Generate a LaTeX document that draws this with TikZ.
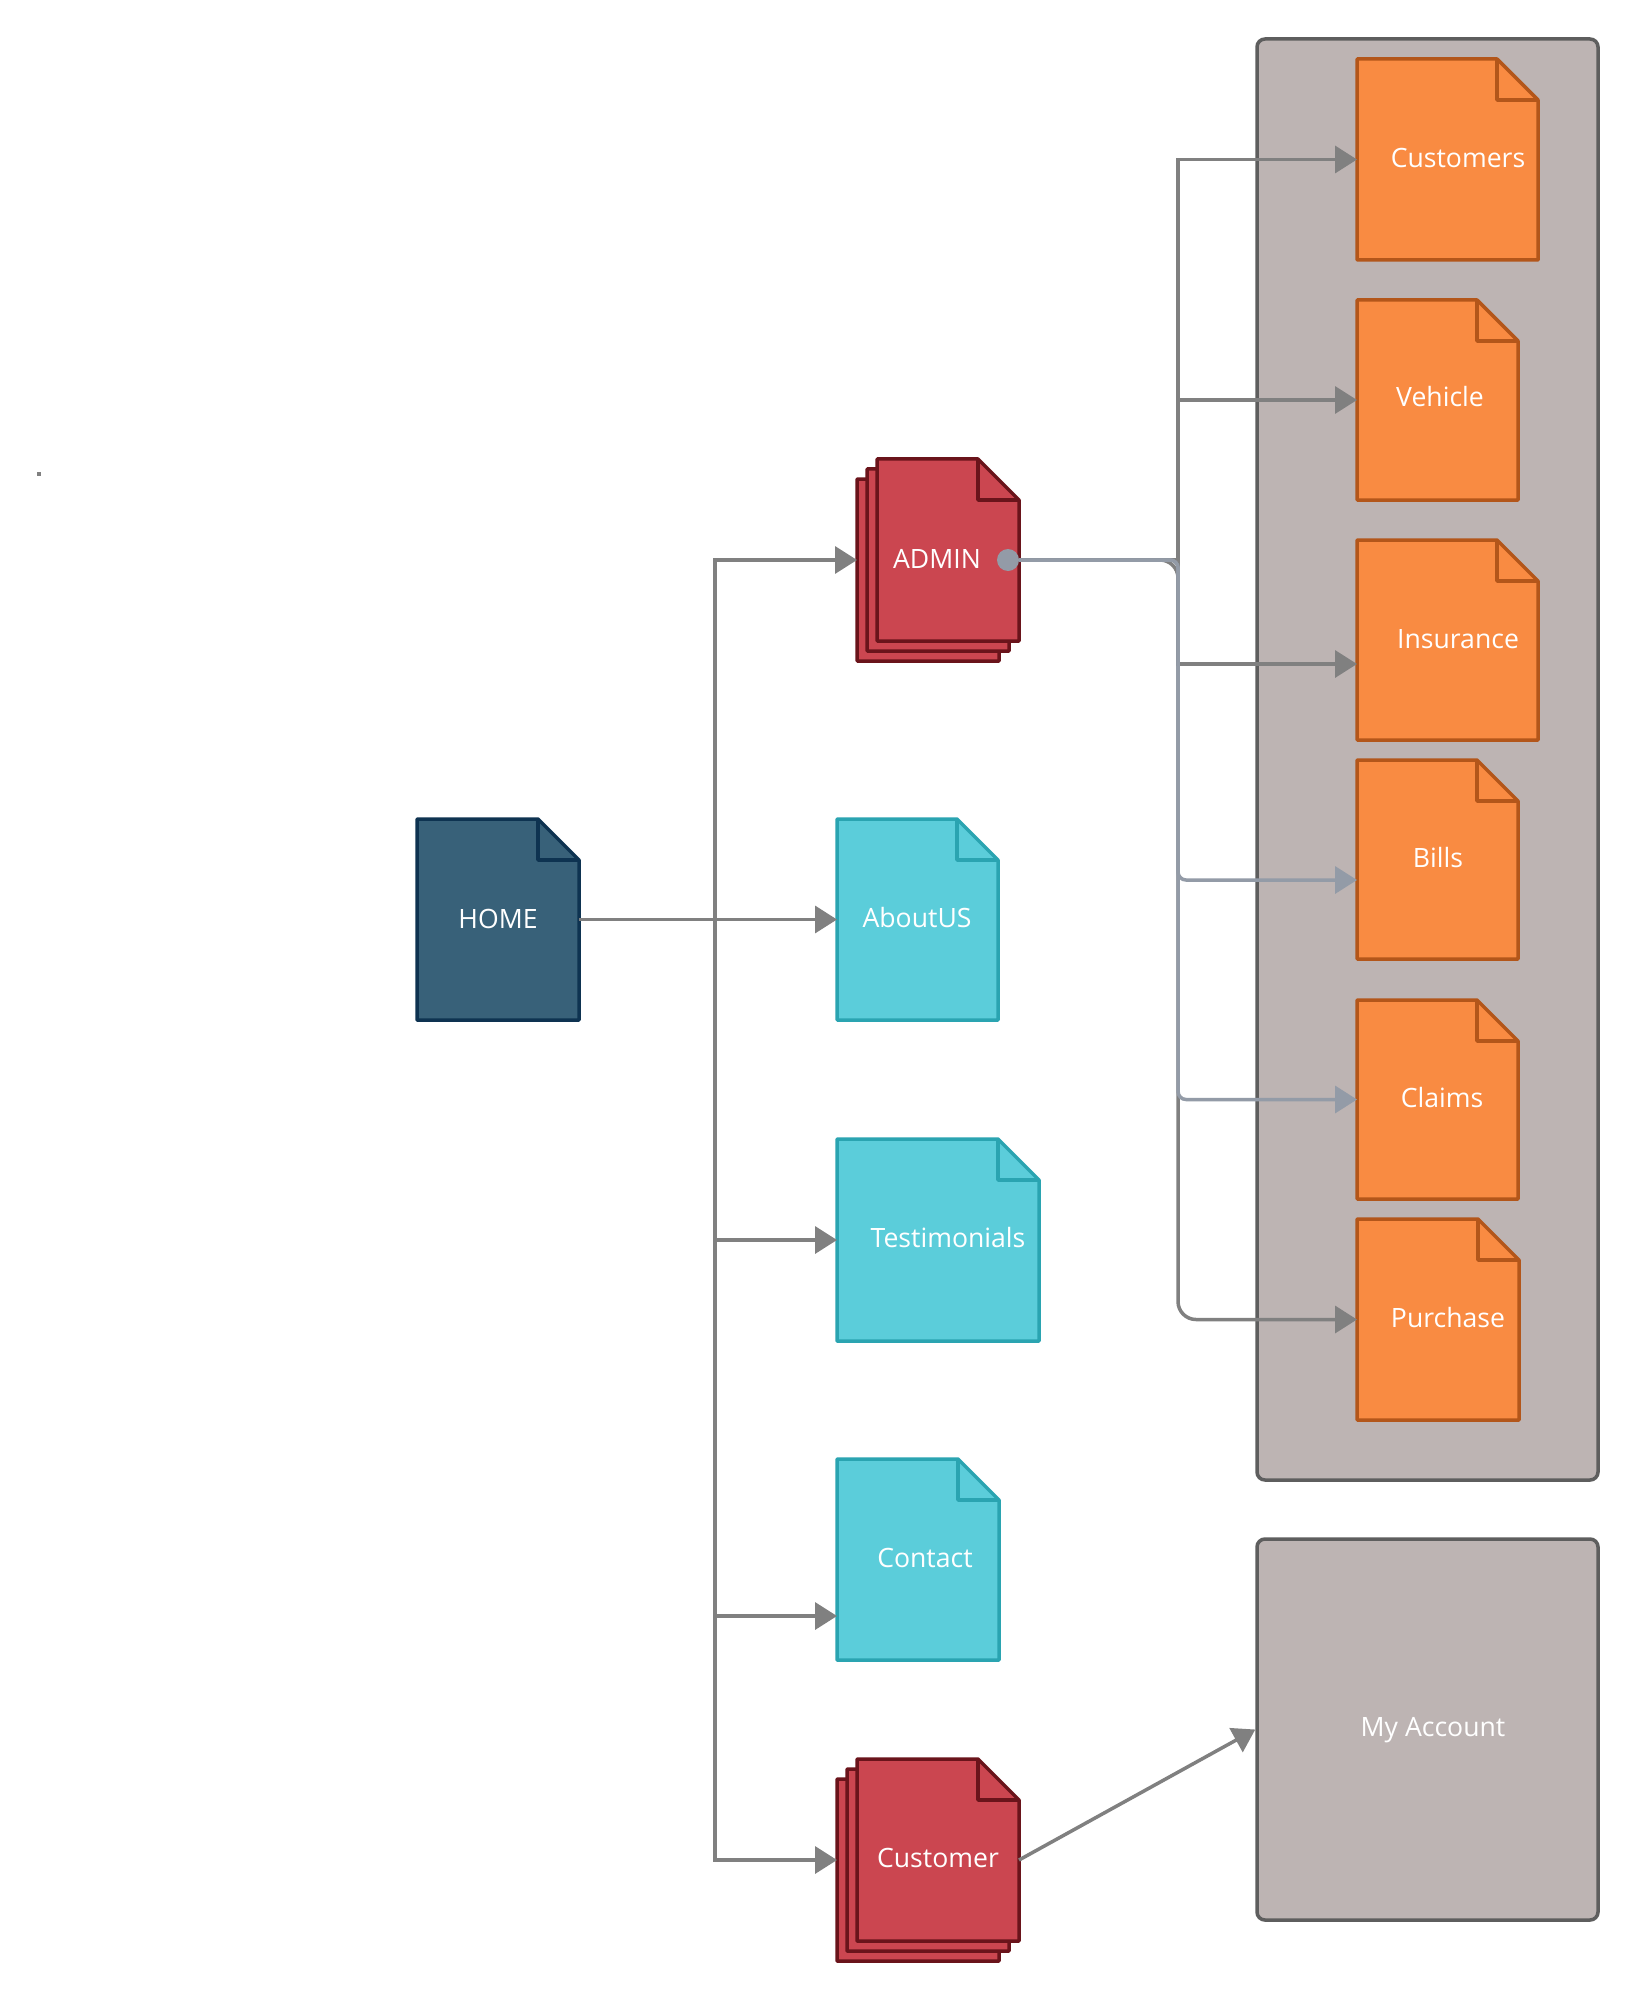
\documentclass[tikz,border=0pt]{standalone}
\usepackage{fontspec}
\setmainfont{Open Sans}
\usetikzlibrary{arrows.meta,fit}

\definecolor{homefill}{HTML}{386179}
\definecolor{homeline}{HTML}{0E3351}
\definecolor{redfill}{HTML}{CB4650}
\definecolor{redline}{HTML}{6A141B}
\definecolor{cyanfill}{HTML}{5BCDDA}
\definecolor{cyanline}{HTML}{2AA4B1}
\definecolor{orangefill}{HTML}{F98B42}
\definecolor{orangeline}{HTML}{B3561A}
\definecolor{groupfill}{HTML}{BDB4B3}
\definecolor{groupline}{HTML}{5E5E5E}
\definecolor{linkgrey}{HTML}{808080}
\definecolor{linkblue}{HTML}{939BA7}

% page with a folded top-right corner: style, x1, y1, x2, y2, fold
\newcommand\docpage[6]{%
  \draw[#1] (#2,#3) -- (#4-#6,#3) -- (#4,#3+#6) -- (#4,#5) -- (#2,#5) -- cycle;
  \draw[#1,fill=none] (#4-#6,#3) |- (#4,#3+#6);
}

\tikzset{
  homedoc/.style={fill=homefill, draw=homeline, line width=1.75pt, line join=round},
  reddoc/.style={fill=redfill, draw=redline, line width=1.75pt, line join=round},
  cyandoc/.style={fill=cyanfill, draw=cyanline, line width=1.75pt, line join=round},
  orangedoc/.style={fill=orangefill, draw=orangeline, line width=1.75pt, line join=round},
  groupbox/.style={fill=groupfill, draw=groupline, line width=1.75pt, rounded corners=4pt, inner sep=0pt},
  area/.style={inner sep=0pt, outer sep=0pt},
  link/.style={draw=linkgrey, line width=1.75pt, -{Triangle[length=11pt,width=13.5pt]}},
  linkb/.style={link, draw=linkblue},
  lbl/.style={text=white, font=\fontsize{13.3}{16}\selectfont, anchor=base, inner sep=0pt},
}

\begin{document}
\begin{tikzpicture}[x=0.5pt, y=-0.5pt]
\useasboundingbox[fill=white] (0,0) rectangle (1638,2000);

% stray mark
\fill[linkgrey] (37,472) rectangle (41,476);

% groups
\node[groupbox, fit={(1257,39) (1598,1480)}] (admingroup) {};
\node[groupbox, fit={(1257,1539) (1598,1920)}] (myacc) {};
\node[lbl] (myacc-t) at (1433,1736) {My Account};

% home page
\docpage{homedoc}{417}{819}{579}{1020}{41}
\node[area, fit={(417,819) (579,1020)}] (home) {};
\node[lbl] (home-t) at (498,928) {HOME};

% admin stack
\docpage{reddoc}{857}{479}{999}{661}{41}
\docpage{reddoc}{867}{469}{1009}{651}{41}
\docpage{reddoc}{877}{459}{1019}{641}{41}
\node[area, fit={(857,459) (1019,661)}] (admin) {};
\node[lbl] (admin-t) at (937,568) {ADMIN};

% public pages
\docpage{cyandoc}{837}{819}{998}{1020}{41}
\node[area, fit={(837,819) (998,1020)}] (about) {};
\node[lbl] (about-t) at (917,927) {AboutUS};

\docpage{cyandoc}{837}{1139}{1039}{1341}{41}
\node[area, fit={(837,1139) (1039,1341)}] (testi) {};
\node[lbl] (testi-t) at (948,1247) {Testimonials};

\docpage{cyandoc}{837}{1459}{999}{1660}{41}
\node[area, fit={(837,1459) (999,1660)}] (contact) {};
\node[lbl] (contact-t) at (925,1567) {Contact};

% customer stack
\docpage{reddoc}{837}{1779}{999}{1961}{41}
\docpage{reddoc}{847}{1769}{1009}{1951}{41}
\docpage{reddoc}{857}{1759}{1019}{1941}{41}
\node[area, fit={(837,1759) (1019,1961)}] (customer) {};
\node[lbl] (customer-t) at (938,1867) {Customer};

% admin pages
\docpage{orangedoc}{1357}{59}{1538}{260}{41}
\node[area, fit={(1357,59) (1538,260)}] (customers) {};
\node[lbl] (customers-t) at (1458,168) {Customers};

\docpage{orangedoc}{1357}{300}{1518}{500}{41}
\node[area, fit={(1357,300) (1518,500)}] (vehicle) {};
\node[lbl] (vehicle-t) at (1440,407) {Vehicle};

\docpage{orangedoc}{1357}{540}{1538}{740}{41}
\node[area, fit={(1357,540) (1538,740)}] (insurance) {};
\node[lbl] (insurance-t) at (1458,648) {Insurance};

\docpage{orangedoc}{1357}{760}{1518}{959}{41}
\node[area, fit={(1357,760) (1518,959)}] (bills) {};
\node[lbl] (bills-t) at (1438,867) {Bills};

\docpage{orangedoc}{1357}{1000}{1518}{1199}{41}
\node[area, fit={(1357,1000) (1518,1199)}] (claims) {};
\node[lbl] (claims-t) at (1442,1107) {Claims};

\docpage{orangedoc}{1357}{1219}{1519}{1420}{41}
\node[area, fit={(1357,1219) (1519,1420)}] (purchase) {};
\node[lbl] (purchase-t) at (1448,1327) {Purchase};

% connectors from home
\coordinate (hbus) at (home.east -| 715,0);
\draw[link] (home.east) -- (about.west);
\draw[link] (home.east) -- (hbus) |- (admin.west);
\draw[link] (home.east) -- (hbus) |- (testi.west);
\draw[link] (home.east) -- (hbus) |- (contact.west |- 0,1616);
\draw[link] (home.east) -- (hbus) |- (customer.west);

% connectors from admin
\coordinate (abus) at (admin.east -| 1178,0);
\draw[link] (admin.east) -- (abus) |- (customers.west);
\draw[link] (admin.east) -- (abus) |- (vehicle.west);
\draw[link] (admin.east) -- (abus) |- (insurance.west |- 0,664);
\draw[link, rounded corners=9pt] (admin.east) -- (abus) |- (purchase.west);
\draw[linkb, rounded corners=4pt] (admin.east) -- (abus) |- (bills.west |- 0,880);
\draw[linkb, rounded corners=4pt] (admin.east) -- (abus) |- (claims.west);
\fill[linkblue] ([xshift=-5.5pt]admin.east) circle (5.5pt);

% customer to account
\draw[link] (customer.east) -- (myacc.west);
\end{tikzpicture}
\end{document}
